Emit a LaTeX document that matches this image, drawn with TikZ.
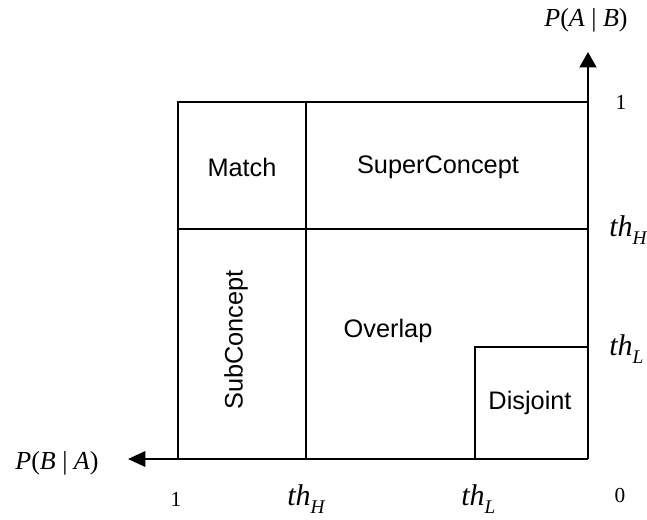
\documentclass[tikz,border=0pt]{standalone}
\usepackage{fontspec}
\setmainfont{Liberation Serif}
\newfontfamily\boxfont{Liberation Sans}
\usetikzlibrary{arrows.meta}
\newcommand{\thsub}[1]{\textit{th}\raisebox{-6.5pt}{\fontsize{14.5}{16}\selectfont\textit{#1}}}
\begin{document}
\begin{tikzpicture}[x=0.75pt,y=-0.75pt,
  region/.style={draw=black,line width=1.5pt},
  axisline/.style={draw=black,line width=1.8pt},
  regionlabel/.style={font=\boxfont\fontsize{19}{22}\selectfont,inner sep=0pt},
  axislabel/.style={font=\fontsize{19.5}{22}\selectfont,inner sep=0pt},
  ticklabel/.style={font=\fontsize{16}{18}\selectfont,inner sep=0pt},
  thlabel/.style={font=\fontsize{22.5}{26}\selectfont,inner sep=0pt,anchor=base west}]
\useasboundingbox (0,0) rectangle (647,519);
% corners
\coordinate (TL) at (178,102);
\coordinate (TR) at (588,102);
\coordinate (BL) at (178,459);
\coordinate (O) at (588,459);
\coordinate (yTip) at (588,52);
\coordinate (xTip) at (128,459);
\coordinate (vH) at (306,102);
\coordinate (vHb) at (306,459);
\coordinate (hH) at (178,229);
\coordinate (hHr) at (588,229);
\coordinate (dTL) at (475,347);
\coordinate (dR) at (588,347);
\coordinate (dB) at (475,459);
% regions
\draw[region] (BL) -- (TL) -- (TR);
\draw[region] (vH) -- (vHb);
\draw[region] (hH) -- (hHr);
\draw[region] (dB) -- (dTL) -- (dR);
% axes
\draw[axisline,-{Triangle[length=11.5pt,width=12.5pt]}] (O) -- (yTip);
\draw[axisline,-{Triangle[length=13pt,width=11.5pt]}] (O) -- (xTip);
% region labels
\node[regionlabel] (match) at (242,167) {Match};
\node[regionlabel] (super) at (438,167) {SuperConcept};
\node[regionlabel] (overlap) at (388,331) {Overlap};
\node[regionlabel,rotate=90] (sub) at (236,340) {SubConcept};
\node[regionlabel] (disj) at (530,403) {Disjoint};
% axis labels
\node[axislabel] (pab) at (586,20) {\textit{P}(\textit{A} | \textit{B})};
\node[axislabel] (pba) at (57,463) {\textit{P}(\textit{B} | \textit{A})};
\node[ticklabel] (y1) at (621,102) {1};
\node[thlabel] (ythH) at (609,236) {\thsub{H}};
\node[thlabel] (ythL) at (609,355) {\thsub{L}};
\node[ticklabel] (x1) at (176,499) {1};
\node[thlabel] (xthH) at (287,505) {\thsub{H}};
\node[thlabel] (xthL) at (461,505) {\thsub{L}};
\node[ticklabel] (x0) at (620,496) {0};
\end{tikzpicture}
\end{document}
